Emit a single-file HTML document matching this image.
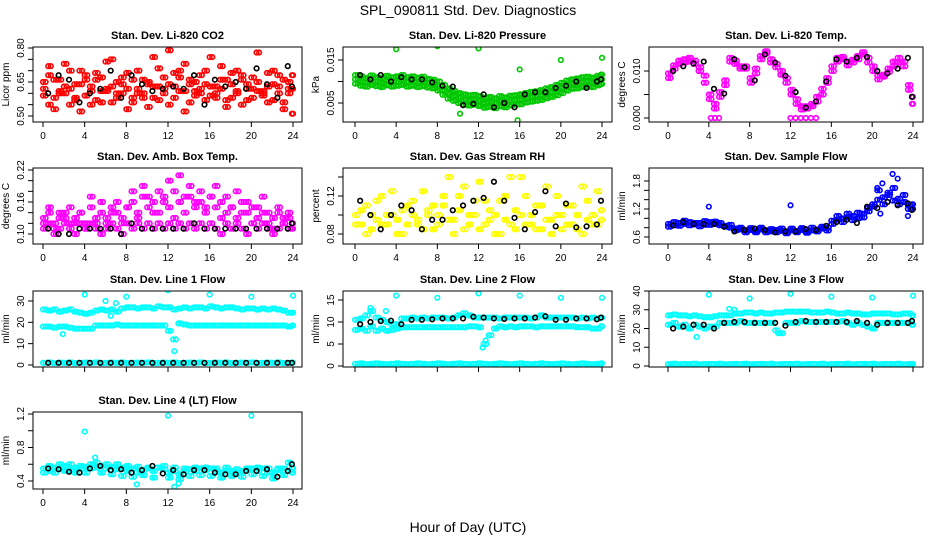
<!DOCTYPE html>
<html><head><meta charset="utf-8"><style>
html,body{margin:0;padding:0;background:#fff;}
svg text{font-family:"Liberation Sans",sans-serif;}
</style></head><body>
<svg id="chart" width="936" height="540" viewBox="0 0 936 540" xmlns="http://www.w3.org/2000/svg">
<text x="468" y="15" text-anchor="middle" font-size="14">SPL_090811  Std. Dev. Diagnostics</text>
<text x="468" y="532" text-anchor="middle" font-size="14">Hour of Day (UTC)</text>
</svg>
<script>
// ---- shared time categories ----
const hoursH = [0,0.5,1,1.5,2,2.5,3,3.5,4,4.5,5,5.5,6,6.5,7,7.5,8,8.5,9,9.5,10,10.5,11,11.5,12,12.5,13,13.5,14,14.5,15,15.5,16,16.5,17,17.5,18,18.5,19,19.5,20,20.5,21,21.5,22,22.5,23,23.5,24];
const hoursQ = [0.25,0.75,1.25,1.75,2.25,2.75,3.25,3.75,4.25,4.75,5.25,5.75,6.25,6.75,7.25,7.75,8.25,8.75,9.25,9.75,10.25,10.75,11.25,11.75,12.25,12.75,13.25,13.75,14.25,14.75,15.25,15.75,16.25,16.75,17.25,17.75,18.25,18.75,19.25,19.75,20.25,20.75,21.25,21.75,22.25,22.75,23.25,23.75,23.9];
const hoursK = [0.5,1.5,2.5,3.5,4.5,5.5,6.5,7.5,8.5,9.5,10.5,11.5,12.5,13.5,14.5,15.5,16.5,17.5,18.5,19.5,20.5,21.5,22.5,23.5,23.9];
const xTicks = [0,4,8,12,16,20,24];

// ---- CO2 ----
const co2A = [0.62,0.68,0.58,0.66,0.60,0.55,0.64,0.70,0.59,0.63,0.57,0.67,0.61,0.56,0.65,0.60,0.69,0.58,0.62,0.66,0.54,0.63,0.71,0.60,0.64,0.58,0.67,0.61,0.56,0.65,0.62,0.70,0.59,0.63,0.66,0.57,0.64,0.60,0.68,0.62,0.58,0.65,0.61,0.69,0.57,0.63,0.66,0.60,0.62];
const co2B = [0.59,0.55,0.66,0.61,0.73,0.62,0.58,0.64,0.68,0.55,0.66,0.61,0.74,0.63,0.58,0.67,0.62,0.56,0.70,0.60,0.65,0.58,0.63,0.67,0.55,0.69,0.61,0.73,0.64,0.59,0.68,0.57,0.63,0.60,0.72,0.66,0.58,0.70,0.55,0.64,0.67,0.61,0.59,0.63,0.70,0.60,0.56,0.65,0.68];
const co2C = [0.65,0.72,0.53,0.60,0.63,0.70,0.57,0.52,0.66,0.61,0.69,0.56,0.62,0.75,0.60,0.64,0.53,0.66,0.60,0.58,0.64,0.76,0.57,0.62,0.79,0.63,0.70,0.52,0.66,0.61,0.60,0.64,0.76,0.58,0.62,0.54,0.69,0.61,0.66,0.57,0.62,0.78,0.60,0.56,0.64,0.68,0.53,0.62,0.51];
const co2K = [0.60,0.68,0.66,0.56,0.60,0.62,0.70,0.58,0.68,0.64,0.61,0.62,0.63,0.62,0.68,0.55,0.66,0.63,0.65,0.62,0.71,0.64,0.58,0.72,0.63];

// ---- Pressure ----
const presA = [0.0105,0.0100,0.0098,0.0102,0.0100,0.0097,0.0101,0.0099,0.0100,0.0103,0.0099,0.0101,0.0098,0.0100,0.0097,0.0095,0.0090,0.0080,0.0072,0.0066,0.0062,0.0058,0.0056,0.0058,0.0055,0.0050,0.0052,0.0050,0.0054,0.0052,0.0055,0.0057,0.0058,0.0062,0.0064,0.0066,0.0068,0.0072,0.0075,0.0080,0.0085,0.0090,0.0094,0.0095,0.0098,0.0100,0.0098,0.0102,0.0105];
const presB = [0.0115,0.0112,0.0108,0.0114,0.0110,0.0109,0.0113,0.0110,0.0112,0.0115,0.0110,0.0112,0.0109,0.0111,0.0106,0.0104,0.0100,0.0092,0.0084,0.0078,0.0073,0.0070,0.0068,0.0069,0.0066,0.0062,0.0064,0.0061,0.0066,0.0063,0.0067,0.0068,0.0070,0.0073,0.0076,0.0077,0.0080,0.0084,0.0087,0.0092,0.0097,0.0102,0.0105,0.0107,0.0110,0.0111,0.0109,0.0113,0.0116];
const presC = [0.0095,0.0090,0.0088,0.0092,0.0089,0.0087,0.0091,0.0088,0.0090,0.0092,0.0088,0.0090,0.0087,0.0089,0.0086,0.0084,0.0079,0.0069,0.0060,0.0055,0.0050,0.0046,0.0044,0.0046,0.0043,0.0039,0.0041,0.0038,0.0042,0.0040,0.0044,0.0046,0.0047,0.0051,0.0053,0.0055,0.0057,0.0061,0.0064,0.0068,0.0073,0.0079,0.0083,0.0084,0.0087,0.0089,0.0087,0.0091,0.0094];
const presOutX = [4,8,12,16,20,24,15.8,10.2];
const presOutY = [0.0175,0.0182,0.0177,0.0128,0.0150,0.0155,0.0010,0.0025];
const presK = [0.0115,0.0105,0.0115,0.0100,0.0110,0.0105,0.0105,0.0098,0.0090,0.0088,0.0045,0.0048,0.0070,0.0040,0.0050,0.0040,0.0070,0.0075,0.0075,0.0085,0.0090,0.0100,0.0085,0.0100,0.0105];

// ---- Li-820 Temp ----
const tempA = [0.0085,0.0105,0.0115,0.0118,0.0120,0.0122,0.0108,0.0090,0.0050,0.0030,0.0045,0.0070,0.0120,0.0122,0.0110,0.0105,0.0085,0.0095,0.0125,0.0138,0.0125,0.0115,0.0100,0.0085,0.0060,0.0040,0.0025,0.0025,0.0025,0.0035,0.0050,0.0075,0.0100,0.0120,0.0125,0.0120,0.0118,0.0125,0.0135,0.0128,0.0110,0.0090,0.0092,0.0098,0.0110,0.0118,0.0120,0.0070,0.0030];
const tempB = [0.0095,0.0112,0.0122,0.0125,0.0128,0.0115,0.0100,0.0075,0.0040,0.0020,0.0055,0.0080,0.0128,0.0115,0.0105,0.0110,0.0075,0.0105,0.0132,0.0142,0.0118,0.0108,0.0092,0.0075,0.0050,0.0030,0.0018,0.0020,0.0030,0.0045,0.0062,0.0085,0.0110,0.0128,0.0130,0.0112,0.0124,0.0132,0.0140,0.0118,0.0100,0.0082,0.0088,0.0105,0.0120,0.0128,0.0110,0.0060,0.0045];
const tempZeroX = [4.2,4.6,5.0,12.0,12.5,13.0,13.5,14.0,14.5];
const tempZeroY = [0,0,0,0,0,0,0,0,0];
const tempK = [0.0100,0.0110,0.0116,0.0120,0.0062,0.0052,0.0125,0.0108,0.0080,0.0135,0.0118,0.0090,0.0055,0.0022,0.0035,0.0078,0.0125,0.0120,0.0128,0.0130,0.0100,0.0095,0.0105,0.0128,0.0045];

// ---- Amb box temp ----
const ambA = [0.11,0.12,0.10,0.11,0.12,0.11,0.10,0.12,0.11,0.12,0.11,0.10,0.11,0.12,0.11,0.10,0.12,0.11,0.12,0.11,0.12,0.11,0.12,0.11,0.12,0.11,0.12,0.11,0.12,0.11,0.12,0.11,0.12,0.11,0.10,0.12,0.11,0.12,0.11,0.10,0.12,0.11,0.12,0.11,0.10,0.11,0.12,0.11,0.12];
const ambB = [0.13,0.14,0.12,0.13,0.14,0.12,0.13,0.14,0.12,0.15,0.13,0.14,0.12,0.15,0.14,0.13,0.15,0.16,0.14,0.17,0.15,0.16,0.14,0.17,0.15,0.18,0.16,0.14,0.17,0.15,0.16,0.14,0.17,0.15,0.16,0.14,0.15,0.13,0.16,0.14,0.15,0.13,0.14,0.12,0.13,0.14,0.12,0.13,0.12];
const ambC = [0.12,0.15,0.11,0.14,0.13,0.15,0.12,0.14,0.11,0.17,0.12,0.16,0.13,0.14,0.16,0.12,0.15,0.18,0.13,0.19,0.17,0.14,0.18,0.16,0.20,0.13,0.21,0.17,0.19,0.16,0.18,0.15,0.17,0.19,0.13,0.17,0.15,0.18,0.14,0.16,0.12,0.15,0.17,0.14,0.11,0.15,0.13,0.14,0.11];
const ambK = [0.11,0.10,0.10,0.11,0.11,0.11,0.11,0.10,0.12,0.11,0.11,0.11,0.11,0.11,0.12,0.11,0.11,0.11,0.11,0.11,0.11,0.11,0.11,0.11,0.12];

// ---- Gas stream RH ----
const rhA = [0.10,0.09,0.11,0.085,0.095,0.12,0.09,0.10,0.08,0.105,0.09,0.115,0.095,0.085,0.10,0.11,0.09,0.12,0.095,0.08,0.105,0.13,0.09,0.10,0.085,0.115,0.095,0.10,0.08,0.12,0.09,0.105,0.14,0.09,0.10,0.085,0.11,0.095,0.08,0.12,0.10,0.09,0.11,0.085,0.13,0.095,0.10,0.09,0.105];
const rhB = [0.09,0.105,0.08,0.10,0.115,0.09,0.10,0.125,0.095,0.08,0.11,0.10,0.09,0.125,0.105,0.085,0.10,0.11,0.14,0.095,0.12,0.085,0.10,0.115,0.135,0.09,0.105,0.08,0.115,0.095,0.14,0.085,0.10,0.12,0.09,0.11,0.085,0.13,0.095,0.10,0.085,0.11,0.09,0.10,0.08,0.115,0.09,0.125,0.095];
const rhK = [0.115,0.10,0.085,0.10,0.11,0.105,0.085,0.095,0.095,0.105,0.11,0.115,0.118,0.135,0.115,0.097,0.085,0.103,0.125,0.088,0.112,0.087,0.088,0.09,0.115];

// ---- Sample flow ----
const sfA = [0.88,0.85,0.90,0.88,0.92,0.87,0.90,0.86,0.92,0.88,0.85,0.84,0.80,0.78,0.76,0.74,0.75,0.73,0.76,0.74,0.72,0.75,0.73,0.72,0.74,0.73,0.75,0.72,0.74,0.76,0.78,0.80,0.95,0.97,1.00,1.02,1.05,1.00,1.10,1.15,1.30,1.40,1.45,1.50,1.38,1.42,1.35,1.28,1.20];
const sfB = [0.82,0.92,0.84,0.95,0.85,0.90,0.83,0.94,0.86,0.93,0.90,0.82,0.86,0.74,0.80,0.70,0.79,0.70,0.80,0.70,0.77,0.70,0.78,0.68,0.78,0.70,0.79,0.69,0.80,0.72,0.82,0.74,0.88,1.05,0.92,1.10,0.96,1.12,1.02,1.22,1.25,1.60,1.30,1.55,1.65,1.30,1.50,1.20,1.30];
const sfOutX = [4,12,20.5,21,22,22.5,20.8,23.5];
const sfOutY = [1.25,1.28,1.65,1.75,1.95,1.85,1.10,1.05];
const sfK = [0.85,0.92,0.88,0.88,0.88,0.82,0.72,0.75,0.78,0.75,0.70,0.72,0.72,0.77,0.75,0.84,0.92,0.97,0.90,1.25,1.22,1.35,1.28,1.32,1.18];

// ---- Line 1 flow ----
const l1U = [26,25.5,26,25,25.5,26,25,24.5,24,24.5,25.5,26,25.5,26,25,26.5,27,27,26.5,27,27,26.5,27.5,27,27,26,26.5,27,26.5,27,27,26.5,27.5,27,26.5,27,27,26.5,26,26.5,26.5,26,26.5,26,26.5,26,25.5,24.5,24.5];
const l1L = [18,18,17.5,18,18,17.5,17,17,17,17,18.5,18.5,18.5,18.5,19,18.5,18.5,18.5,18.5,18.5,18.5,18.5,18.5,18.5,16,12,19.5,19,18.5,18.5,18.5,18.5,18.5,18.5,18.5,18.5,18.5,18.5,18.5,18.5,18.5,18.5,18.5,18.5,18.5,18.5,18.5,18,18.5];
const l1Z = [1,1.2,0.9,1.1,1,1.2,0.9,1,1.1,1,1.2,0.9,1,1.1,1,1.2,0.9,1,1.1,1,1.2,0.9,1,1.1,1,1.2,0.9,1,1.1,1,1.2,0.9,1,1.1,1,1.2,0.9,1,1.1,1,1.2,0.9,1,1.1,1,1.2,0.9,1,1.1];
const l1OutX = [4,8,12,16,20,24,6,7,1.9,12.6,6.5];
const l1OutY = [33,32,35,33,32,32.5,30,29,14.5,6.5,23];
const l1K = [1,1,1,1,1,1,1,1,1,1,1,1,1,1,1,1,1,1,1,1,1,1,1,1,1];

// ---- Line 2 flow ----
const l2U = [10.5,10.8,11.5,12.5,11,10.5,10,9.5,9.5,10.8,10.8,11,10.8,11,10.8,11,11,11,10.8,11,11.5,12,11.5,11,11,11,11,11,10.8,11,11,11,11,11,10.8,11,11.5,11,11,11,11,11,11,10.8,11,10.8,11,10.8,11];
const l2L = [8.2,8.5,8,9,8,8.5,8,8.2,8.5,8.8,8.8,8.8,8.8,8.8,8.8,8.8,8.8,8.8,8.8,8.8,8.8,8.8,9,9,8.8,5,7,8.5,9,8.8,9,8.8,9,9,9,8.8,9,9,9,9,9,9,9,8.8,8.8,8.8,8.5,8.5,9];
const l2Z = [0.5,0.6,0.4,0.5,0.6,0.5,0.4,0.5,0.6,0.5,0.4,0.5,0.6,0.5,0.4,0.5,0.6,0.5,0.4,0.5,0.6,0.5,0.4,0.5,0.6,0.5,0.4,0.5,0.6,0.5,0.4,0.5,0.6,0.5,0.4,0.5,0.6,0.5,0.4,0.5,0.6,0.5,0.4,0.5,0.6,0.5,0.4,0.5,0.6];
const l2OutX = [4,8,12,16,20,24,12.4,12.7,1.5,3];
const l2OutY = [16,15.5,16.5,16,15.5,15.5,4.2,5.8,13.2,12.5];
const l2K = [9.5,10,10.2,10.3,9.5,10.5,10.5,10.6,10.8,10.8,10.8,11.2,11,10.8,10.7,10.8,10.8,11,11.3,10.5,10.5,10.8,10.8,10.6,11];

// ---- Line 3 flow ----
const l3U = [27,27.5,27,27,26.5,27,26.5,26,26,26.5,27,27,27,28,28,28.5,28.5,28,28.5,28,28,28.5,28.5,29,29,29,29,29,28.5,28.5,28.5,29,28.5,28,28,28.5,28,28,27.5,27.5,28,28,28,28,27.5,27.5,28,28,27];
const l3L = [22,23,21,22,20,22,21,20,21,21,23,23,23,23,24,23,23,23,23,23,23,19,17.5,23,23,23,24,23.5,23.5,23.5,23.5,23.5,23.5,23.5,24,23,22,23,22,21,20,23,23,23,23,23,23,23,22];
const l3Z = [1,1.2,0.9,1.1,1,1.2,0.9,1,1.1,1,1.2,0.9,1,1.1,1,1.2,0.9,1,1.1,1,1.2,0.9,1,1.1,1,1.2,0.9,1,1.1,1,1.2,0.9,1,1.1,1,1.2,0.9,1,1.1,1,1.2,0.9,1,1.1,1,1.2,0.9,1,1.1];
const l3OutX = [4,8,12,16,20,24,2.8,6,6.5,10.8];
const l3OutY = [38,36,38.5,37,36.5,37.5,15.5,30.5,30,17.5];
const l3K = [20,21,22,22,20,23,23.5,23.5,23,23,23,21.5,23.5,24,23.5,23.5,23.5,23.5,24,23,22,23,23,23,24];

// ---- Line 4 flow ----
const l4A = [0.55,0.52,0.56,0.54,0.58,0.53,0.56,0.55,0.57,0.60,0.56,0.58,0.55,0.57,0.54,0.56,0.52,0.55,0.50,0.53,0.55,0.52,0.56,0.54,0.50,0.52,0.48,0.52,0.54,0.52,0.55,0.53,0.55,0.52,0.50,0.53,0.52,0.50,0.52,0.54,0.55,0.52,0.55,0.50,0.50,0.53,0.55,0.52,0.55];
const l4B = [0.50,0.58,0.50,0.60,0.52,0.60,0.50,0.58,0.50,0.55,0.62,0.50,0.60,0.48,0.60,0.46,0.58,0.45,0.57,0.47,0.56,0.44,0.56,0.58,0.44,0.56,0.42,0.55,0.46,0.56,0.47,0.56,0.46,0.55,0.44,0.56,0.46,0.54,0.45,0.55,0.48,0.56,0.46,0.55,0.43,0.55,0.47,0.62,0.50];
const l4OutX = [4,12,20,9,12.6,5,13];
const l4OutY = [0.99,1.18,1.18,0.36,0.33,0.68,0.37];
const l4K = [0.55,0.54,0.51,0.50,0.55,0.58,0.53,0.54,0.50,0.53,0.58,0.49,0.53,0.48,0.53,0.53,0.50,0.48,0.48,0.52,0.52,0.54,0.45,0.52,0.60];

const NS = "http://www.w3.org/2000/svg";
const svg = document.getElementById('chart');
function mk(tag, attrs, parent){ const e=document.createElementNS(NS,tag); for(const k in attrs) e.setAttribute(k,attrs[k]); (parent||svg).appendChild(e); return e; }

// layout (pixel geometry only)
const cols = [{l:33,r:302,x0:43,x24:293},{l:343,r:612,x0:355,x24:602},{l:649,r:923,x0:668,x24:913}];
const rows = [{t:47,b:122},{t:168,b:244},{t:291,b:367},{t:412,b:489}];

function panel(cfg){
  const c=cols[cfg.col], r=rows[cfg.row];
  const g=mk('g',{});
  
  
  const xs = h => c.x0 + (c.x24-c.x0)*h/24;
  const ys = v => cfg.p0 + (cfg.p1-cfg.p0)*(v-cfg.v0)/(cfg.v1-cfg.v0);
  const t=mk('text',{x:(c.l+c.r)/2,y:r.t-8,'text-anchor':'middle','font-size':11,'font-weight':'bold'},g);
  t.textContent=cfg.title;
  
  
  const yl=mk('text',{x:0,y:0,'text-anchor':'middle','font-size':10,transform:`translate(${c.l-24},${(r.t+r.b)/2}) rotate(-90)`},g);
  yl.textContent=cfg.ylab;
  
  
  mk('line',{x1:xs(0),x2:xs(24),y1:r.b,y2:r.b,stroke:'#000','stroke-width':1},g);
  xTicks.forEach(h=>{
    mk('line',{x1:xs(h),x2:xs(h),y1:r.b,y2:r.b+5,stroke:'#000','stroke-width':1},g);
    if(cfg.row!==2){
      const tl=mk('text',{x:xs(h),y:r.b+17,'text-anchor':'middle','font-size':10},g);
      tl.textContent=h;
      
      
    }
  });
  const ya=ys(cfg.ticks[0]), yb=ys(cfg.ticks[cfg.ticks.length-1]);
  mk('line',{x1:c.l,x2:c.l,y1:ya,y2:yb,stroke:'#000','stroke-width':1},g);
  cfg.ticks.forEach((v,i)=>{
    const y=ys(v);
    mk('line',{x1:c.l-5,x2:c.l,y1:y,y2:y,stroke:'#000','stroke-width':1},g);
    if(cfg.labels[i]!==''){
      const tl=mk('text',{x:0,y:0,'text-anchor':'middle','font-size':10,transform:`translate(${c.l-9},${y}) rotate(-90)`},g);
      tl.textContent=cfg.labels[i];
      
      
    }
  });
  const clipId='clip'+cfg.name;
  const cp=mk('clipPath',{id:clipId},g); mk('rect',{x:c.l,y:r.t,width:c.r-c.l,height:r.b-r.t},cp);
  const pg=mk('g',{'clip-path':`url(#${clipId})`},g);
  cfg.series.forEach(s=>{
    s.y.forEach((v,i)=>{
      const p=mk('circle',{cx:xs(s.x[i]),cy:ys(v),r:2.3,fill:'none',stroke:s.color,'stroke-width':1.6},pg);
      
      
    });
  });
  const bx=mk('rect',{x:c.l,y:r.t,width:c.r-c.l,height:r.b-r.t,fill:'none',stroke:'#000','stroke-width':1},g);
  
  
}

const H=hoursH, Q=hoursQ, K=hoursK;
const RED='#ff0000', GRN='#00c800', MAG='#ff00ff', YEL='#ffff00', BLU='#0000ff', CYN='#00ffff';
panel({name:'panel-co2',col:0,row:0,title:'Stan. Dev. Li-820 CO2',ylab:'Licor ppm',v0:0.50,v1:0.80,p0:116,p1:48,
  ticks:[0.50,0.55,0.60,0.65,0.70,0.75,0.80],labels:['0.50','','','0.65','','','0.80'],
  series:[{key:'co2',color:RED,x:H,y:co2A},{key:'co2',color:RED,x:H,y:co2B},{key:'co2',color:RED,x:H,y:co2C},{key:'co2',color:RED,x:Q,y:co2B},{key:'co2',color:RED,x:Q,y:co2A},{key:'co2',color:RED,x:Q,y:co2C},{key:'co2-hourly',color:'#000',x:K,y:co2K}]});
panel({name:'panel-pressure',col:1,row:0,title:'Stan. Dev. Li-820 Pressure',ylab:'kPa',v0:0.005,v1:0.015,p0:103,p1:60,
  ticks:[0.005,0.010,0.015],labels:['0.005','','0.015'],
  series:[{key:'pressure',color:GRN,x:H,y:presA},{key:'pressure',color:GRN,x:H,y:presB},{key:'pressure',color:GRN,x:H,y:presC},{key:'pressure',color:GRN,x:Q,y:presA},{key:'pressure',color:GRN,x:Q,y:presB},{key:'pressure',color:GRN,x:Q,y:presC},{key:'pressure',color:GRN,x:presOutX,y:presOutY},{key:'pressure-hourly',color:'#000',x:K,y:presK}]});
panel({name:'panel-temp',col:2,row:0,title:'Stan. Dev. Li-820 Temp.',ylab:'degrees C',v0:0,v1:0.010,p0:118,p1:71,
  ticks:[0,0.005,0.010],labels:['0.000','','0.010'],
  series:[{key:'temp',color:MAG,x:H,y:tempA},{key:'temp',color:MAG,x:H,y:tempB},{key:'temp',color:MAG,x:Q,y:tempA},{key:'temp',color:MAG,x:Q,y:tempB},{key:'temp',color:MAG,x:tempZeroX,y:tempZeroY},{key:'temp-hourly',color:'#000',x:K,y:tempK}]});
panel({name:'panel-amb-temp',col:0,row:1,title:'Stan. Dev. Amb. Box Temp.',ylab:'degrees C',v0:0.10,v1:0.22,p0:234,p1:170,
  ticks:[0.10,0.12,0.14,0.16,0.18,0.20,0.22],labels:['0.10','','','0.16','','','0.22'],
  series:[{key:'amb',color:MAG,x:H,y:ambA},{key:'amb',color:MAG,x:H,y:ambB},{key:'amb',color:MAG,x:H,y:ambC},{key:'amb',color:MAG,x:Q,y:ambB},{key:'amb',color:MAG,x:Q,y:ambC},{key:'amb',color:MAG,x:Q,y:ambA},{key:'amb-hourly',color:'#000',x:K,y:ambK}]});
panel({name:'panel-rh',col:1,row:1,title:'Stan. Dev. Gas Stream RH',ylab:'percent',v0:0.08,v1:0.12,p0:234,p1:196,
  ticks:[0.08,0.10,0.12,0.14],labels:['0.08','','0.12',''],
  series:[{key:'rh',color:YEL,x:H,y:rhA},{key:'rh',color:YEL,x:H,y:rhB},{key:'rh',color:YEL,x:Q,y:rhB},{key:'rh',color:YEL,x:Q,y:rhA},{key:'rh-hourly',color:'#000',x:K,y:rhK}]});
panel({name:'panel-sample-flow',col:2,row:1,title:'Stan. Dev. Sample Flow',ylab:'ml/min',v0:0.6,v1:1.8,p0:237,p1:181,
  ticks:[0.6,0.8,1.0,1.2,1.4,1.6,1.8],labels:['0.6','','','1.2','','','1.8'],
  series:[{key:'sample-flow',color:BLU,x:H,y:sfA},{key:'sample-flow',color:BLU,x:H,y:sfB},{key:'sample-flow',color:BLU,x:Q,y:sfA},{key:'sample-flow',color:BLU,x:Q,y:sfB},{key:'sample-flow',color:BLU,x:sfOutX,y:sfOutY},{key:'sample-flow-hourly',color:'#000',x:K,y:sfK}]});
panel({name:'panel-line1',col:0,row:2,title:'Stan. Dev. Line 1 Flow',ylab:'ml/min',v0:0,v1:30,p0:365,p1:301,
  ticks:[0,10,20,30],labels:['0','10','20','30'],
  series:[{key:'line1',color:CYN,x:H,y:l1U},{key:'line1',color:CYN,x:H,y:l1L},{key:'line1',color:CYN,x:H,y:l1Z},{key:'line1',color:CYN,x:Q,y:l1U},{key:'line1',color:CYN,x:Q,y:l1L},{key:'line1',color:CYN,x:Q,y:l1Z},{key:'line1',color:CYN,x:l1OutX,y:l1OutY},{key:'line1-hourly',color:'#000',x:K,y:l1K}]});
panel({name:'panel-line2',col:1,row:2,title:'Stan. Dev. Line 2 Flow',ylab:'ml/min',v0:0,v1:15,p0:366,p1:300,
  ticks:[0,5,10,15],labels:['0','5','10','15'],
  series:[{key:'line2',color:CYN,x:H,y:l2U},{key:'line2',color:CYN,x:H,y:l2L},{key:'line2',color:CYN,x:H,y:l2Z},{key:'line2',color:CYN,x:Q,y:l2U},{key:'line2',color:CYN,x:Q,y:l2L},{key:'line2',color:CYN,x:Q,y:l2Z},{key:'line2',color:CYN,x:l2OutX,y:l2OutY},{key:'line2-hourly',color:'#000',x:K,y:l2K}]});
panel({name:'panel-line3',col:2,row:2,title:'Stan. Dev. Line 3 Flow',ylab:'ml/min',v0:0,v1:40,p0:366,p1:291,
  ticks:[0,10,20,30,40],labels:['0','10','20','30','40'],
  series:[{key:'line3',color:CYN,x:H,y:l3U},{key:'line3',color:CYN,x:H,y:l3L},{key:'line3',color:CYN,x:H,y:l3Z},{key:'line3',color:CYN,x:Q,y:l3U},{key:'line3',color:CYN,x:Q,y:l3L},{key:'line3',color:CYN,x:Q,y:l3Z},{key:'line3',color:CYN,x:l3OutX,y:l3OutY},{key:'line3-hourly',color:'#000',x:K,y:l3K}]});
panel({name:'panel-line4',col:0,row:3,title:'Stan. Dev. Line 4 (LT) Flow',ylab:'ml/min',v0:0.4,v1:1.2,p0:481,p1:414,
  ticks:[0.4,0.6,0.8,1.0,1.2],labels:['0.4','','0.8','','1.2'],
  series:[{key:'line4',color:CYN,x:H,y:l4A},{key:'line4',color:CYN,x:H,y:l4B},{key:'line4',color:CYN,x:Q,y:l4B},{key:'line4',color:CYN,x:Q,y:l4A},{key:'line4',color:CYN,x:l4OutX,y:l4OutY},{key:'line4-hourly',color:'#000',x:K,y:l4K}]});
</script>
</body></html>
